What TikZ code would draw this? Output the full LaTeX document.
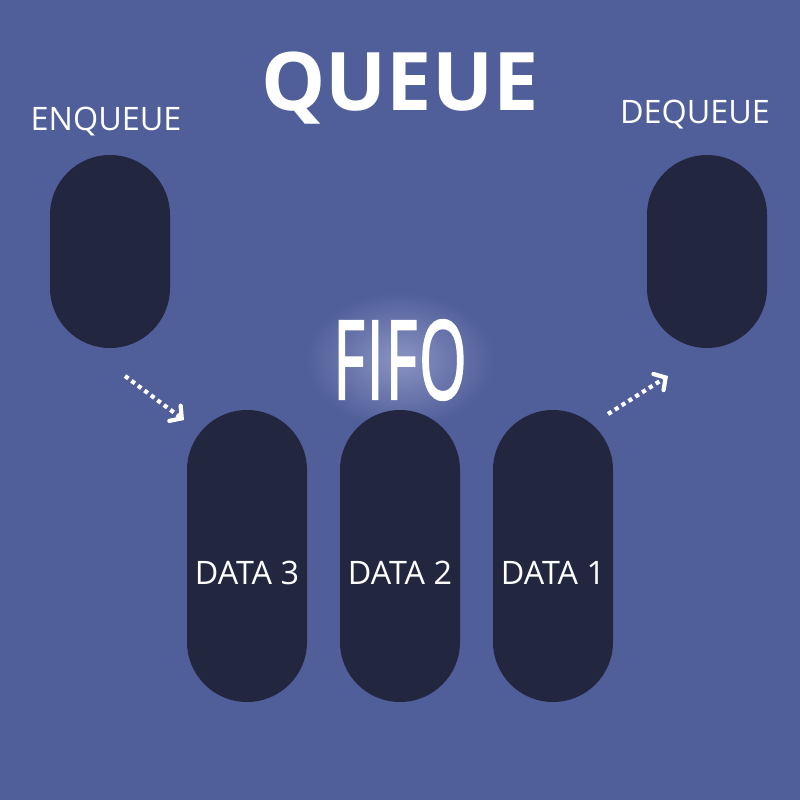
\documentclass[tikz,border=0pt]{standalone}
\usepackage{fontspec}
\setmainfont{Open Sans}
\newfontfamily\markfont[FakeBold=2.2]{Open Sans}
\usetikzlibrary{arrows.meta}
\definecolor{bgblue}{HTML}{505E99}
\definecolor{pill}{HTML}{22263F}
\definecolor{glow}{HTML}{8A93C3}
\tikzset{
  capsule/.style={fill=pill, rounded corners=0.6cm, minimum width=1.2cm,
    inner sep=0pt},
  label/.style={text=white, font=\fontsize{9.2}{11}\selectfont, inner sep=0pt},
  flow/.style={draw=white, line width=1.2pt, dash pattern=on 1.2pt off 1.1pt,
    -{Straight Barb[length=2.4pt,width=5.4pt,line cap=round]}},
}
\begin{document}
\begin{tikzpicture}
  \fill[bgblue] (0,0) rectangle (8,-8);
  \useasboundingbox (0,0) rectangle (8,-8);

  % title
  \node[text=white, inner sep=0pt, font=\fontsize{23}{26}\bfseries\selectfont] (title) at (4,-0.88) {QUEUE};

  % side labels
  \node[label] (enqlabel) at (1.06,-1.22) {ENQUEUE};
  \node[label] (deqlabel) at (6.95,-1.15) {DEQUEUE};

  % entry and exit slots
  \node[capsule, minimum height=1.93cm] (enq) at (1.10,-2.515) {};
  \node[capsule, minimum height=1.93cm] (deq) at (7.07,-2.515) {};

  % glowing FIFO mark
  \shade[inner color=glow, outer color=bgblue] (4,-3.6) ellipse (0.95cm and 0.68cm);
  \node[text=white, inner sep=0pt, xscale=0.56,
        font=\fontsize{31}{34}\markfont\selectfont] (fifo) at (4,-3.6) {F\kern1pt I\kern1pt F\kern1pt O};

  % queued items
  \node[capsule, minimum height=2.92cm] (d3) at (2.47,-5.56) {};
  \node[capsule, minimum height=2.92cm] (d2) at (4.00,-5.56) {};
  \node[capsule, minimum height=2.92cm] (d1) at (5.53,-5.56) {};
  \node[label] (d3text) at (2.47,-5.73) {DATA 3};
  \node[label] (d2text) at (4.00,-5.73) {DATA 2};
  \node[label] (d1text) at (5.53,-5.73) {DATA 1};

  % flow arrows
  \coordinate (inA) at (1.25,-3.76);
  \coordinate (inB) at (1.84,-4.20);
  \coordinate (outA) at (6.08,-4.14);
  \coordinate (outB) at (6.68,-3.76);
  \draw[flow] (inA) -- (inB);
  \draw[flow] (outA) -- (outB);
\end{tikzpicture}
\end{document}
